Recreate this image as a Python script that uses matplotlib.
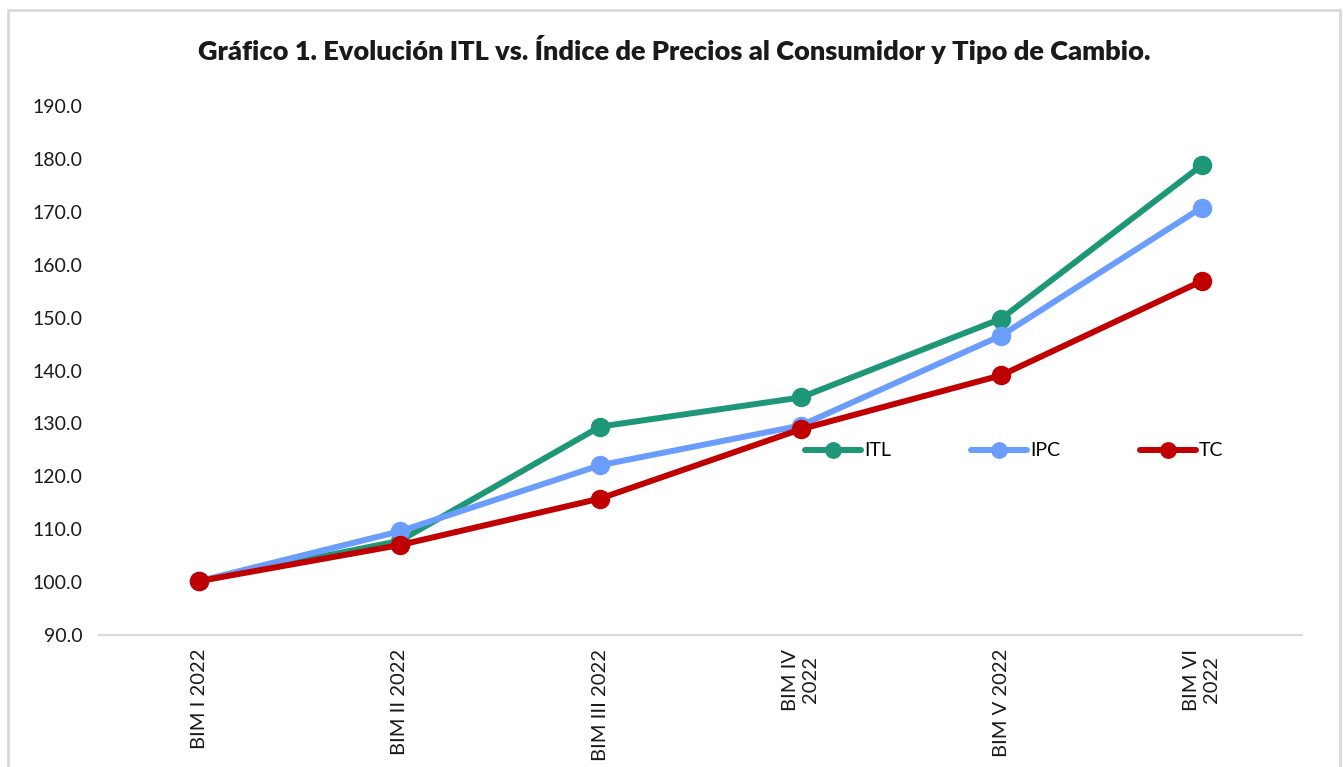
import matplotlib
matplotlib.use("Agg")
import matplotlib.pyplot as plt
from matplotlib.patches import Rectangle

categories = ["BIM I 2022", "BIM II 2022", "BIM III 2022", "BIM IV\n2022", "BIM V 2022", "BIM VI\n2022"]
itl = [100.2, 107.8, 129.4, 134.9, 149.8, 178.8]
ipc = [100.2, 109.6, 122.1, 129.6, 146.6, 170.8]
tc = [100.2, 107.0, 115.8, 128.9, 139.1, 156.9]
yticks = [90, 100, 110, 120, 130, 140, 150, 160, 170, 180, 190]

plt.rcParams['font.family'] = ['Lato', 'DejaVu Sans']

W, H = 1343, 767
fig = plt.figure(figsize=(W / 100, H / 100), dpi=100)
fig.patch.set_facecolor("white")

# outer border of chart area
fig.patches.append(Rectangle((7.5 / W, -0.05), (1340 - 7.5) / W, 1 - 9.5 / H + 0.05,
                             transform=fig.transFigure, fill=False,
                             edgecolor="#d9d9d9", linewidth=2))

ax = fig.add_axes([99 / W, 1 - 635 / H, (1302 - 99) / W, (635 - 106) / H])
x = list(range(len(categories)))

series = [("ITL", itl, "#1E9678"), ("IPC", ipc, "#6A9DFD"), ("TC", tc, "#C00000")]
for name, vals, col in series:
    ax.plot(x, vals, color=col, linewidth=4.3, marker="o", markersize=13,
            label=name, solid_capstyle="round")

ax.set_xlim(-0.5, len(categories) - 0.5)
ax.set_ylim(90, 190)
ax.set_yticks(yticks)
ax.set_yticklabels([f"{v:.1f}" for v in yticks], fontsize=14, color="#1a1a1a")
ax.set_xticks(x)
ax.set_xticklabels(categories, rotation=90, fontsize=14.5, color="#1a1a1a",
                   multialignment="center", va="top", ha="center")
ax.tick_params(axis="both", length=0, pad=12)
ax.tick_params(axis="x", pad=10)
for s in ["top", "right", "left"]:
    ax.spines[s].set_visible(False)
ax.spines["bottom"].set_color("#d9d9d9")
ax.spines["bottom"].set_linewidth(1.5)

fig.text(674 / W, 1 - 50 / H, "Gráfico 1. Evolución ITL vs. Índice de Precios al Consumidor y Tipo de Cambio.",
         ha="center", va="center", fontsize=19.5, fontweight="heavy", color="#1a1a1a")

leg = fig.legend(loc="center left", bbox_to_anchor=(795 / W, 1 - 451 / H), ncol=3,
                 frameon=False, fontsize=14, handlelength=2.9, columnspacing=4.1,
                 handletextpad=0.15, borderpad=0, markerscale=0.85)

fig.savefig("out.png", dpi=100)
